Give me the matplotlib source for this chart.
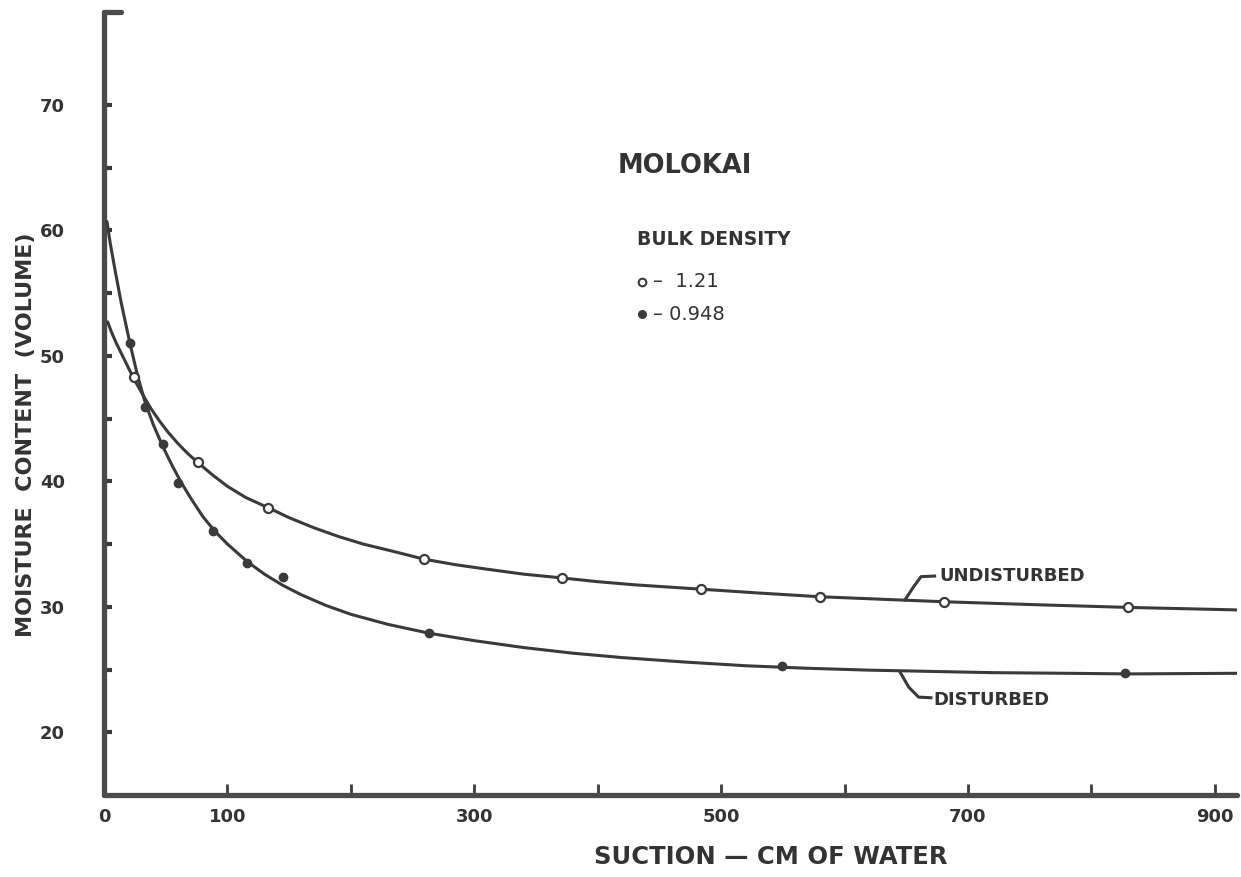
import matplotlib
matplotlib.use("Agg")
import matplotlib.pyplot as plt

# Measured points: suction (cm of water) vs. moisture content (% by volume)
undist_x = [24, 76, 133, 259, 371, 484, 580, 681, 830]
undist_y = [48.3, 41.5, 37.9, 33.8, 32.3, 31.4, 30.8, 30.4, 30.0]

dist_x = [21, 33, 48, 60, 88, 116, 145, 263, 549, 827]
dist_y = [51.0, 45.9, 43.0, 39.9, 36.0, 33.5, 32.4, 27.9, 25.3, 24.7]

# Hand-fitted curves through each set of points
undist_curve_x = [3, 6, 10, 17, 24, 32, 38, 45, 52, 60, 68, 76, 88, 100, 115, 133, 150,
                  170, 190, 210, 235, 259, 285, 310, 340, 371, 400, 430, 484, 530, 580,
                  630, 681, 760, 830, 918]
undist_curve_y = [52.7, 51.9, 51.0, 49.6, 48.2, 46.8, 45.8, 44.8, 43.9, 43.0, 42.2, 41.5,
                  40.5, 39.6, 38.7, 37.9, 37.1, 36.3, 35.6, 35.0, 34.4, 33.8, 33.35, 33.0,
                  32.6, 32.3, 32.0, 31.75, 31.4, 31.1, 30.8, 30.6, 30.4, 30.15, 29.95, 29.75]

dist_curve_x = [2.4, 5, 9, 14, 21, 27, 33, 40, 48, 55, 62, 70, 80, 90, 100, 116, 130, 145,
                160, 180, 200, 230, 263, 300, 340, 380, 420, 470, 520, 570, 620, 670, 720,
                780, 830, 918]
dist_curve_y = [60.7, 59.0, 56.8, 54.2, 51.0, 48.5, 46.4, 44.5, 42.7, 41.3, 40.0, 38.7,
                37.2, 36.0, 35.0, 33.6, 32.6, 31.7, 30.95, 30.1, 29.4, 28.6, 27.9, 27.3,
                26.75, 26.3, 25.95, 25.6, 25.3, 25.1, 24.95, 24.85, 24.75, 24.7, 24.65, 24.7]

x_ticks = [0, 100, 200, 300, 400, 500, 600, 700, 800, 900]
x_tick_labels = ["0", "100", "", "300", "", "500", "", "700", "", "900"]
y_ticks = [20, 25, 30, 35, 40, 45, 50, 55, 60, 65, 70]
y_tick_labels = ["20", "", "30", "", "40", "", "50", "", "60", "", "70"]

INK = "#3a3a3a"
TXT = "#333333"
plt.rcParams["font.family"] = ["DejaVu Sans"]

fig = plt.figure(figsize=(12.41, 8.77), dpi=100)
ax = fig.add_axes([104 / 1241, 1 - 795 / 877, 1133 / 1241, 783 / 877])
ax.set_xlim(0, 918)
ax.set_ylim(15.0, 77.4)

for s in ("top", "right"):
    ax.spines[s].set_visible(False)
for s in ("left", "bottom"):
    ax.spines[s].set_linewidth(3.8)
    ax.spines[s].set_color("#4a4a4a")
    ax.spines[s].set_capstyle("round")

# small hook at the top of the vertical axis
ax.plot([0, 14], [77.4, 77.4], color="#4a4a4a", lw=3.8, solid_capstyle="round", clip_on=False)

ax.set_xticks(x_ticks)
ax.set_xticklabels(x_tick_labels)
ax.set_yticks(y_ticks)
ax.set_yticklabels(y_tick_labels)
ax.tick_params(axis="x", direction="in", length=8, width=2, color=INK, pad=9,
               labelsize=13, labelcolor=TXT)
ax.tick_params(axis="y", direction="in", length=6, width=3, color=INK, pad=28,
               labelsize=13, labelcolor=TXT)
for lab in ax.get_xticklabels() + ax.get_yticklabels():
    lab.set_fontweight("bold")

# curves
ax.plot(undist_curve_x, undist_curve_y, color=INK, lw=2.2, solid_capstyle="round",
        solid_joinstyle="round", zorder=3)
ax.plot(dist_curve_x, dist_curve_y, color=INK, lw=2.2, solid_capstyle="round",
        solid_joinstyle="round", zorder=3)

# points
ax.plot(undist_x, undist_y, linestyle="none", marker="o", ms=6.5, mfc="white",
        mec=INK, mew=1.6, zorder=4)
ax.plot(dist_x, dist_y, linestyle="none", marker="o", ms=6, mfc=INK, mec=INK, zorder=4)

# curve labels with leader lines
ax.plot([649, 656, 662, 673], [30.55, 31.6, 32.4, 32.45], color=INK, lw=2.2)
ax.text(677, 32.45, "UNDISTURBED", fontsize=13, fontweight="bold", color=TXT,
        va="center", ha="left")
ax.plot([645, 652, 660, 670], [24.8, 23.6, 22.8, 22.75], color=INK, lw=2.2)
ax.text(672, 22.55, "DISTURBED", fontsize=13, fontweight="bold", color=TXT,
        va="center", ha="left")

# title and key
ax.text(471, 65.1, "MOLOKAI", fontsize=18.5, fontweight="bold", color=TXT,
        ha="center", va="center")
ax.text(432, 59.3, "BULK DENSITY", fontsize=13.5, fontweight="bold", color=TXT,
        ha="left", va="center")
ax.plot([436], [55.9], linestyle="none", marker="o", ms=5.5, mfc="white", mec=INK, mew=1.5)
ax.text(445, 55.9, "–  1.21", fontsize=14, color=TXT, ha="left", va="center")
ax.plot([436], [53.3], linestyle="none", marker="o", ms=5.5, mfc=INK, mec=INK)
ax.text(445, 53.3, "– 0.948", fontsize=14, color=TXT, ha="left", va="center")

# axis titles
fig.text(771 / 1241, 1 - 857 / 877, "SUCTION — CM OF WATER", fontsize=17.5,
         fontweight="bold", color=TXT, ha="center", va="center")
fig.text(26 / 1241, 1 - 435 / 877, "MOISTURE  CONTENT  (VOLUME)", fontsize=16,
         fontweight="bold", color=TXT, ha="center", va="center", rotation=90)

fig.savefig("out.png", dpi=100, facecolor="white")
